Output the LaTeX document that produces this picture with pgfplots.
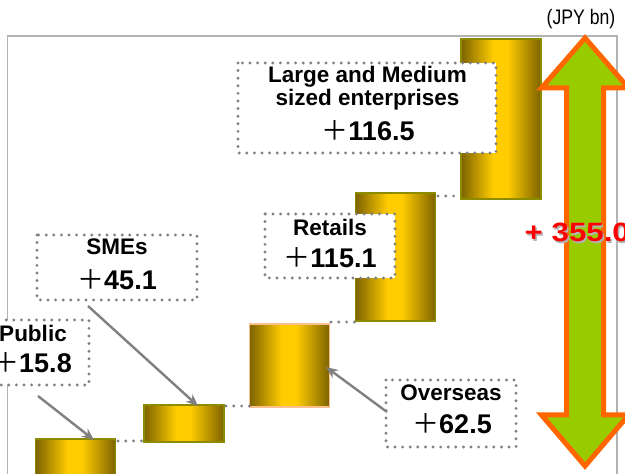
\documentclass[border=0pt]{standalone}
\usepackage{pgfplots}
\pgfplotsset{compat=1.18}
\usepackage{fontspec}
\setmainfont{Liberation Sans}
\newfontfamily\cjk{Noto Sans CJK JP}
\usetikzlibrary{arrows.meta}
\definecolor{barDark}{HTML}{7D6300}
\definecolor{barGold}{HTML}{FFCC00}
\definecolor{barEdge}{HTML}{8C8C00}
\definecolor{dotGray}{HTML}{808080}
\definecolor{frameGray}{HTML}{B3B3B3}
\definecolor{arrowGreen}{HTML}{99CC00}
\definecolor{arrowOrange}{HTML}{FF6600}
\definecolor{barThreeEdge}{HTML}{FAC090}
% the path spans 25bp..75bp of a TikZ shading
\pgfdeclarehorizontalshading{barshade}{100bp}{color(0bp)=(barDark); color(25bp)=(barDark); color(45bp)=(barGold); color(54bp)=(barGold); color(75bp)=(barDark); color(100bp)=(barDark)}

\newcommand{\lbl}{\fontsize{22.5bp}{25bp}\selectfont\bfseries}
\newcommand{\num}[1]{\fontsize{27bp}{29bp}\selectfont{\cjk ＋}\bfseries #1}

\begin{document}
\begin{tikzpicture}[x=1bp,y=1bp]
\useasboundingbox (0,0) rectangle (625,474);
\clip (0,0) rectangle (625,474);
\fill[white] (0,0) rectangle (625,474);
% plot frame
\draw[frameGray, line width=1.6bp] (7.5,-10) -- (7.5,438) -- (617,438) -- (617,-10);
\begin{axis}[at={(0,0)}, anchor=south west, scale only axis,
  width=625bp, height=474bp, xmin=0, xmax=625, ymin=0, ymax=474,
  hide axis, clip=false,
  wbar/.style={draw=barEdge, line width=1.2bp, shading=barshade, mark=none}]
% waterfall bars: x from/to, bottom, top (vertical unit = picture bp)
% Public
\addplot[wbar] coordinates {(35.5,-30) (115.5,-30) (115.5,35) (35.5,35)} -- cycle;
% SMEs
\addplot[wbar] coordinates {(144,32) (224,32) (224,69) (144,69)} -- cycle;
% Overseas
\addplot[wbar, draw=barThreeEdge, line width=1.6bp] coordinates {(249.5,67) (329.5,67) (329.5,150) (249.5,150)} -- cycle;
% Retails
\addplot[wbar] coordinates {(355.5,153) (435.5,153) (435.5,281) (355.5,281)} -- cycle;
% Large and Medium sized enterprises
\addplot[wbar] coordinates {(461,275) (541,275) (541,435) (461,435)} -- cycle;
\end{axis}
% connectors
\begin{scope}[dotGray, line width=3.2bp, line cap=round, dash pattern=on 0bp off 7.8bp]
\draw (118,33) -- (143,33);
\draw (226,68) -- (250,68);
\draw (331,152) -- (355,152);
\draw (438,278) -- (461,278);
\end{scope}
% label boxes
\begin{scope}[dotGray, line width=3.2bp, line cap=round, dash pattern=on 0bp off 7.6bp]
\filldraw[fill=white] (238,411) rectangle (496,321);
\filldraw[fill=white] (265,260) rectangle (395,196);
\filldraw[fill=white] (37,239) rectangle (197,174);
\filldraw[fill=white] (-25,154) rectangle (89,89);
\filldraw[fill=white] (386,94) rectangle (516,27);
\end{scope}
% pointer arrows
\begin{scope}[dotGray, line width=2.4bp, -{Stealth[length=12bp, width=10bp]}]
\draw (38,78) -- (94,34);
\draw (88,168) -- (198,68);
\draw (387,62) -- (326,107);
\end{scope}
% label texts
\node at (367.5,397) {\lbl Large and Medium};
\node at (367.5,374) {\lbl sized enterprises};
\node at (368,343) {\num{116.5}};
\node at (330,247) {\lbl Retails};
\node at (330,216) {\num{115.1}};
\node at (117,227) {\lbl SMEs};
\node at (117,194) {\num{45.1}};
\node at (33,141) {\lbl Public};
\node at (32,111) {\num{15.8}};
\node at (451,81) {\lbl Overseas};
\node at (452,50) {\num{62.5}};
% total arrow
\filldraw[fill=arrowGreen, draw=arrowOrange, line width=5bp, miter limit=10]
  (585,436) -- (628.5,386) -- (603.5,386) -- (603.5,59) -- (628.5,59) -- (585,8)
  -- (541.5,59) -- (566.5,59) -- (566.5,386) -- (541.5,386) -- cycle;
\node[anchor=west, inner sep=0pt, text=gray!60] at (526,240) {\scalebox{1.18}[1]{\fontsize{26.5bp}{28bp}\selectfont\bfseries + 355.0}};
\node[anchor=west, inner sep=0pt, text=red] at (524.5,241.5) {\scalebox{1.18}[1]{\fontsize{26.5bp}{28bp}\selectfont\bfseries + 355.0}};
\node at (581,455) {\scalebox{0.84}[1]{\fontsize{21bp}{23bp}\selectfont (JPY bn)}};
\end{tikzpicture}
\end{document}
